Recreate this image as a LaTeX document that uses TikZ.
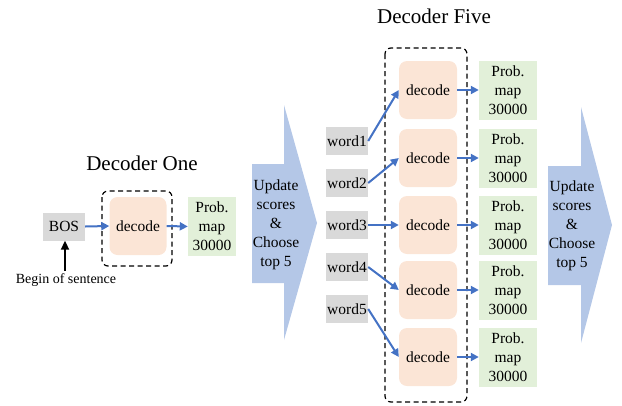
\documentclass[tikz,border=0pt]{standalone}
\usepackage{fontspec}
\setmainfont{Liberation Serif}
\usetikzlibrary{arrows.meta}

\definecolor{boxgray}{RGB}{217,217,217}
\definecolor{decfill}{RGB}{251,229,214}
\definecolor{probfill}{RGB}{226,240,217}
\definecolor{bigarrow}{RGB}{180,199,231}
\definecolor{connblue}{RGB}{68,114,196}

\tikzset{
  txt/.style={font=\fontsize{15.5}{19}\selectfont, inner sep=0pt, align=center},
  wordbox/.style={txt, fill=boxgray, minimum width=42pt, minimum height=28pt},
  decbox/.style={txt, fill=decfill, rounded corners=8pt, minimum width=58pt, minimum height=58pt},
  probbox/.style={txt, fill=probfill, minimum width=58pt, minimum height=59pt},
  groupbox/.style={draw=black, line width=1.2pt, dash pattern=on 5pt off 3.5pt, rounded corners=6pt},
  title/.style={font=\fontsize{21}{25}\selectfont, inner sep=0pt},
  conn/.style={draw=connblue, line width=2pt, -{Triangle[length=8pt,width=8pt]}},
  bigarrowshape/.style={fill=bigarrow, draw=none},
}

\begin{document}
\begin{tikzpicture}[x=1pt, y=-1pt]
\useasboundingbox (0,0) rectangle (622,405);

% ---- Decoder One ----
\node[title] (titleone) at (142,163) {Decoder One};
\node[wordbox] (bos) at (64,226.5) {BOS};
\draw[groupbox] (102,191) rectangle (172,266);
\node[decbox, minimum width=57pt] (decone) at (138,226) {decode};
\node[probbox, minimum width=48pt] (probone) at (212,226.5) {Prob.\\map\\30000};
\draw[conn] (bos.east) -- (decone.west);
\draw[conn] (decone.east) -- (probone.west);
\node[font=\fontsize{14}{16}\selectfont, inner sep=0pt] (bostext) at (66,280) {Begin of sentence};
\coordinate (bosfoot) at (65,271);
\draw[line width=2pt, -{Triangle[length=9pt,width=8pt]}] (bosfoot) -- (bos.south -| bosfoot);

% ---- first score update arrow ----
\path[bigarrowshape] (252,164) -- (284,164) -- (284,105) -- (317,223)
  -- (284,340) -- (284,283) -- (252,283) -- cycle;
\node[txt] (updone) at (276,225) {Update\\scores\\\&\\Choose\\top 5};

% ---- Decoder Five ----
\node[title] (titlefive) at (434,16) {Decoder Five};
\draw[groupbox] (385,48) rectangle (467,402);

\foreach \i/\wy/\dy in {1/141/90, 2/183/158, 3/225/225, 4/267/290, 5/309/357}{
  \node[wordbox] (w\i) at (347,\wy) {word\i};
  \node[decbox] (d\i) at (428,\dy) {decode};
  \node[probbox] (p\i) at (508,\dy) {Prob.\\map\\30000};
  \draw[conn] (w\i.east) -- (d\i.west);
  \draw[conn] (d\i.east) -- (p\i.west);
}

% ---- second score update arrow ----
\path[bigarrowshape] (548,166) -- (581,166) -- (581,107) -- (612,225)
  -- (581,343) -- (581,285) -- (548,285) -- cycle;
\node[txt] (updfive) at (572,226) {Update\\scores\\\&\\Choose\\top 5};
\end{tikzpicture}
\end{document}
